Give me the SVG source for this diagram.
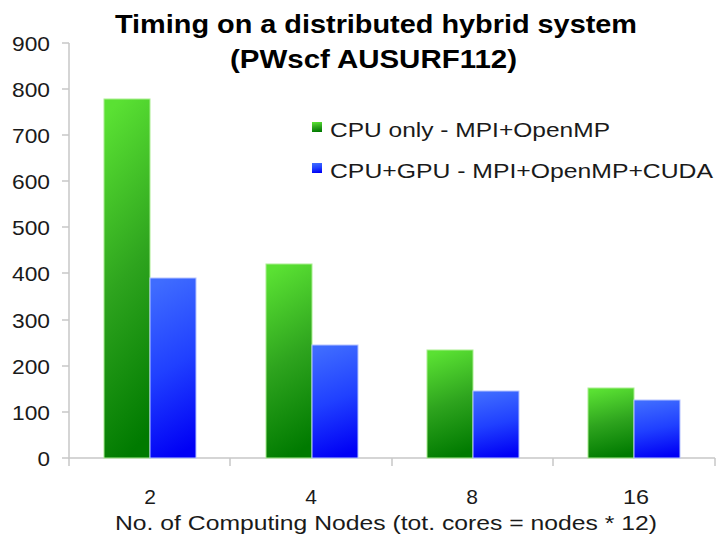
<svg xmlns="http://www.w3.org/2000/svg" width="718" height="535" viewBox="0 0 718 535">
<defs>
<linearGradient id="gGreen" x1="0.35" y1="0" x2="0.5" y2="1">
<stop offset="0" stop-color="#5ae133"/>
<stop offset="0.5" stop-color="#2ea41e"/>
<stop offset="1" stop-color="#007a00"/>
</linearGradient>
<linearGradient id="gBlue" x1="0.35" y1="0" x2="0.5" y2="1">
<stop offset="0" stop-color="#3f6cff"/>
<stop offset="0.5" stop-color="#2040ff"/>
<stop offset="1" stop-color="#0000f5"/>
</linearGradient>
<style>
text { font-family: "Liberation Sans", Arial, sans-serif; fill: #1a1a1a; }
.title { font-size: 25px; font-weight: bold; fill: #000; }
.lbl { font-size: 21px; }
.axis { stroke: #c8c8c8; stroke-width: 1.5; fill: none; }
.green { fill: url(#gGreen); stroke: #a9ee90; stroke-width: 1; }
.blue { fill: url(#gBlue); stroke: #b6c4ff; stroke-width: 1; }
</style>
</defs>
<rect width="718" height="535" fill="#ffffff"/>

<g id="title">
<text class="title" x="115" y="33" textLength="522" lengthAdjust="spacingAndGlyphs">Timing on a distributed hybrid system</text>
<text class="title" x="230" y="68" textLength="287" lengthAdjust="spacingAndGlyphs">(PWscf AUSURF112)</text>
</g>

<g id="axes">
<path class="axis" d="M69 43 V458 H715"/>
<path class="axis" d="M62 43 H69 M62 89 H69 M62 135 H69 M62 181 H69 M62 227 H69 M62 273 H69 M62 320 H69 M62 366 H69 M62 412 H69 M62 458 H69"/>
<path class="axis" d="M69 458 V466 M230 458 V466 M392 458 V466 M553 458 V466 M715 458 V466"/>
</g>

<g id="y-labels" class="lbl">
<text class="lbl" x="50" y="51" text-anchor="end" textLength="38" lengthAdjust="spacingAndGlyphs">900</text>
<text class="lbl" x="50" y="97" text-anchor="end" textLength="38" lengthAdjust="spacingAndGlyphs">800</text>
<text class="lbl" x="50" y="143" text-anchor="end" textLength="38" lengthAdjust="spacingAndGlyphs">700</text>
<text class="lbl" x="50" y="189" text-anchor="end" textLength="38" lengthAdjust="spacingAndGlyphs">600</text>
<text class="lbl" x="50" y="235" text-anchor="end" textLength="38" lengthAdjust="spacingAndGlyphs">500</text>
<text class="lbl" x="50" y="281" text-anchor="end" textLength="38" lengthAdjust="spacingAndGlyphs">400</text>
<text class="lbl" x="50" y="328" text-anchor="end" textLength="38" lengthAdjust="spacingAndGlyphs">300</text>
<text class="lbl" x="50" y="374" text-anchor="end" textLength="38" lengthAdjust="spacingAndGlyphs">200</text>
<text class="lbl" x="50" y="420" text-anchor="end" textLength="38" lengthAdjust="spacingAndGlyphs">100</text>
<text class="lbl" x="50" y="466" text-anchor="end" textLength="12.5" lengthAdjust="spacingAndGlyphs">0</text>
</g>

<g id="bars-2">
<rect class="green" x="104" y="99" width="46" height="359"/>
<rect class="blue" x="150" y="278" width="46" height="180"/>
</g>
<g id="bars-4">
<rect class="green" x="266" y="264" width="46" height="194"/>
<rect class="blue" x="312" y="345" width="46" height="113"/>
</g>
<g id="bars-8">
<rect class="green" x="427" y="350" width="46" height="108"/>
<rect class="blue" x="473" y="391" width="46" height="67"/>
</g>
<g id="bars-16">
<rect class="green" x="588" y="388" width="46" height="70"/>
<rect class="blue" x="634" y="400" width="46" height="58"/>
</g>

<g id="x-labels">
<text class="lbl" x="150" y="504" text-anchor="middle">2</text>
<text class="lbl" x="311" y="504" text-anchor="middle">4</text>
<text class="lbl" x="472" y="504" text-anchor="middle">8</text>
<text class="lbl" x="636" y="504" text-anchor="middle" textLength="26" lengthAdjust="spacingAndGlyphs">16</text>
<text class="lbl" x="115" y="530" textLength="542" lengthAdjust="spacingAndGlyphs">No. of Computing Nodes (tot. cores = nodes * 12)</text>
</g>

<g id="legend">
<rect x="312" y="122" width="10" height="10" fill="url(#gGreen)"/>
<text class="lbl" x="330" y="137" textLength="280" lengthAdjust="spacingAndGlyphs">CPU only - MPI+OpenMP</text>
<rect x="312" y="163" width="10" height="10" fill="url(#gBlue)"/>
<text class="lbl" x="330" y="178" textLength="383" lengthAdjust="spacingAndGlyphs">CPU+GPU - MPI+OpenMP+CUDA</text>
</g>
</svg>
